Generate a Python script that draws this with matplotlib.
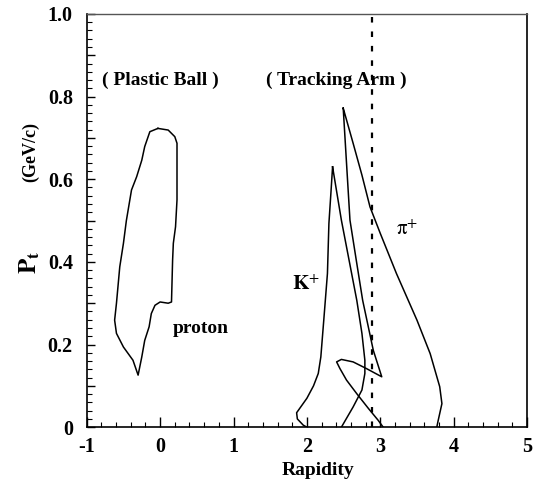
import matplotlib
matplotlib.use("Agg")
import matplotlib.pyplot as plt
from matplotlib.ticker import MultipleLocator, FuncFormatter

# proton contour (Plastic Ball acceptance)
proton_x = [-0.03, 0.11, 0.20, 0.23, 0.23, 0.21, 0.18, 0.17, 0.155, 0.11, 0.0, -0.07,
            -0.12, -0.15, -0.21, -0.25, -0.30, -0.37, -0.50, -0.595, -0.62, -0.595,
            -0.55, -0.50, -0.46, -0.39, -0.32, -0.25, -0.21, -0.14, -0.03]
proton_y = [0.723, 0.719, 0.703, 0.687, 0.55, 0.485, 0.445, 0.404, 0.303, 0.30, 0.303, 0.295,
            0.275, 0.243, 0.21, 0.17, 0.126, 0.162, 0.194, 0.227, 0.259, 0.30,
            0.388, 0.445, 0.50, 0.574, 0.606, 0.646, 0.679, 0.715, 0.723]

# K+ contour
kaon_x = [2.35, 2.33, 2.30, 2.28, 2.23, 2.19, 2.155, 2.09, 2.0, 1.90, 1.86, 1.87, 1.95,
          2.0, 2.02, 2.45, 2.47, 2.63, 2.75, 2.79, 2.79, 2.75, 2.68, 2.47, 2.35]
kaon_y = [0.63, 0.574, 0.493, 0.372, 0.259, 0.170, 0.13, 0.10, 0.07, 0.045, 0.035, 0.02, 0.005,
          0.0, -0.03, -0.03, 0.0, 0.049, 0.09, 0.13, 0.162, 0.227, 0.307, 0.501, 0.63]

# pi+ contour
pion_x = [2.495, 2.63, 2.75, 2.86, 3.0, 3.22, 3.50, 3.68, 3.81, 3.84, 3.79, 3.77, 3.75,
          3.06, 3.04, 2.97, 2.84, 2.68, 2.54, 2.45, 2.405, 2.47, 2.63, 2.81, 3.02,
          2.905, 2.76, 2.673, 2.587, 2.54, 2.495]
pion_y = [0.772, 0.687, 0.61, 0.533, 0.469, 0.372, 0.259, 0.178, 0.098, 0.057, 0.017, 0.0, -0.03,
          -0.03, 0.0, 0.017, 0.045, 0.081, 0.114, 0.142, 0.158, 0.164, 0.158, 0.142, 0.122,
          0.186, 0.307, 0.404, 0.501, 0.639, 0.772]

cut_rapidity = 2.89

plt.rcParams['font.family'] = ['Liberation Serif', 'DejaVu Serif']
plt.rcParams['mathtext.fontset'] = 'stix'

fig = plt.figure(figsize=(5.49, 4.80), dpi=100)
ax = fig.add_axes([0.158, 0.110, 0.802, 0.861])

for xs, ys in [(proton_x, proton_y), (kaon_x, kaon_y), (pion_x, pion_y)]:
    ax.plot(xs, ys, color='black', linewidth=1.1)

ax.axvline(cut_rapidity, color='black', linewidth=1.6, linestyle=(0, (2.5, 4)))

ax.set_xlim(-1, 5)
ax.set_ylim(0, 1.0)

ax.xaxis.set_major_locator(MultipleLocator(1))
ax.xaxis.set_minor_locator(MultipleLocator(0.2))
ax.yaxis.set_major_locator(MultipleLocator(0.1))
ax.yaxis.set_minor_locator(MultipleLocator(0.02))


def yfmt(v, pos):
    k = int(round(v * 10))
    if k % 2:
        return ''
    if k == 0:
        return '0'
    return '%.1f' % v


ax.yaxis.set_major_formatter(FuncFormatter(yfmt))
ax.xaxis.set_major_formatter(FuncFormatter(lambda v, p: '%d' % round(v)))

ax.tick_params(which='both', direction='in', top=False, right=False)
ax.tick_params(axis='x', which='major', length=7, width=1, pad=7, labelsize=14.5)
ax.tick_params(axis='x', which='minor', length=3.5, width=0.8)
ax.tick_params(axis='y', which='major', length=6, width=1, pad=10, labelsize=14.5)
ax.tick_params(axis='y', which='minor', length=3.5, width=0.8)
for lab in ax.get_xticklabels() + ax.get_yticklabels():
    lab.set_fontweight('bold')

for side in ['left', 'bottom', 'right']:
    ax.spines[side].set_linewidth(1.2)
ax.spines['top'].set_linewidth(1.0)
ax.spines['top'].set_color('#555555')

ax.text(0.0, 0.84, '( Plastic Ball )', ha='center', va='center', fontsize=14, fontweight='bold')
ax.text(2.40, 0.84, '( Tracking Arm )', ha='center', va='center', fontsize=14, fontweight='bold')
ax.text(0.55, 0.24, 'proton', ha='center', va='center', fontsize=14, fontweight='bold')
ax.text(1.99, 0.344, r'$\mathbf{K}^{+}$', ha='center', va='center', fontsize=15)
ax.text(3.37, 0.477, r'$\mathrm{\pi}^{+}$', ha='center', va='center', fontsize=15)

ax.text(0.525, -0.104, 'Rapidity', transform=ax.transAxes, ha='center', va='center',
        fontsize=14, fontweight='bold')
fig.text(0.055, 0.454, r'$\mathbf{P_t}$', rotation=90, ha='center', va='center', fontsize=18)
fig.text(0.055, 0.683, '(GeV/c)', rotation=90, ha='center', va='center', fontsize=13,
         fontweight='bold')

fig.savefig('out.png', dpi=100, facecolor='white')
